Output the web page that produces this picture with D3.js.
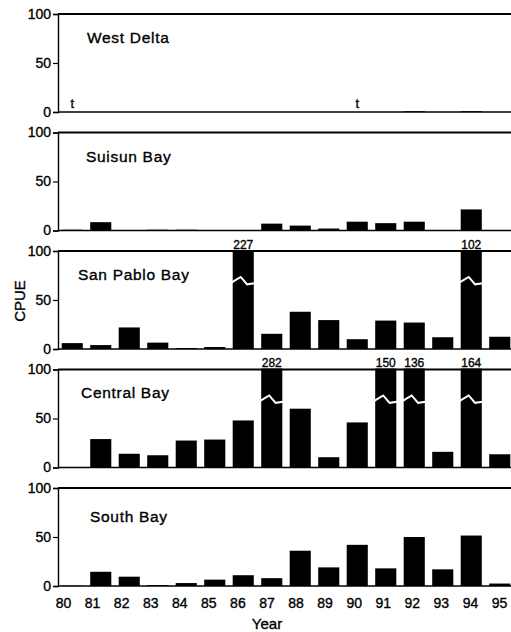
<!DOCTYPE html>
<html>
<head>
<meta charset="utf-8">
<script src="https://cdn.jsdelivr.net/npm/d3@7"></script>
<style>
body { margin: 0; background: #fff; }
text { font-family: Arial, "Liberation Sans", Helvetica, sans-serif; fill: #000; stroke: #000; stroke-width: 0.35px; }
</style>
</head>
<body>
<script>
// years on the x axis
const years = ["80","81","82","83","84","85","86","87","88","89","90","91","92","93","94","95"];
const regions = ["West Delta", "Suisun Bay", "San Pablo Bay", "Central Bay", "South Bay"];

// CPUE per year (values above 100 are drawn as broken bars)
const westDelta   = [0, 0, 0, 0, 0, 0, 0, 0, 0, 0, 0, 0, 0.8, 0, 0.8, 0];
const westDeltaTrace = ["80", "90"];
const suisunBay   = [0.8, 8.5, 0, 0.8, 0.8, 0, 0.5, 7, 5, 2, 9, 7.5, 9, 0, 21.5, 0];
const sanPabloBay = [6, 4, 22, 6.5, 1, 2, 227, 15.5, 38, 29.5, 10, 29, 27, 12, 102, 12.5];
const centralBay  = [0.3, 29, 14, 12.5, 27.5, 28.5, 48, 282, 60, 10.5, 46, 150, 136, 16, 164, 13.5];
const southBay    = [0.3, 14.5, 9.5, 1, 3, 6.5, 11, 8, 36, 19, 42, 18, 50, 17, 51.5, 2.5];
const yTicks = [0, 50, 100];

const series = [westDelta, suisunBay, sanPabloBay, centralBay, southBay];

const width = 511, height = 632;
const panelH = 98, panelStep = 118.5, panelY0 = 14;
const left = 58, right = 514;
// label placement for each panel name
const nameX = [87, 86, 78, 81, 90];
const nameY = [29, 29.5, 29, 28.5, 33.5];

const svg = d3.select("body").append("svg")
    .attr("width", width)
    .attr("height", height);

const x = d3.scaleBand()
    .domain(years)
    .range([left, right])
    .paddingInner(0.26)
    .paddingOuter(0.13);

const xLabel = d3.scalePoint()
    .domain(years)
    .range([63, 499]);

const y = d3.scaleLinear()
    .domain([0, 100])
    .range([panelH, 0]);

const breakLine = d3.line()
    .x(d => d[0])
    .y(d => y(d[1]));

series.forEach((vals, i) => {
    const g = svg.append("g")
        .attr("transform", `translate(0,${panelY0 + i * panelStep})`);

    const data = years.map((yr, j) => ({ year: yr, value: vals[j] }));

    g.selectAll("rect.bar").data(data).enter()
        .append("rect")
        .attr("class", "bar")
        .attr("x", d => x(d.year))
        .attr("y", d => y(Math.min(d.value, 101)))
        .attr("width", x.bandwidth())
        .attr("height", d => y(0) - y(Math.min(d.value, 101)))
        .attr("fill", "#000");

    const broken = data.filter(d => d.value > 100);

    g.selectAll("path.brk").data(broken).enter()
        .append("path")
        .attr("class", "brk")
        .attr("d", d => {
            const x0 = x(d.year), bw = x.bandwidth();
            return breakLine([[x0 - 1, 68], [x0 + bw * 0.38, 73.5], [x0 + bw * 0.68, 66], [x0 + bw + 1, 67]]);
        })
        .attr("fill", "none")
        .attr("stroke", "#fff")
        .attr("stroke-width", 2);

    g.selectAll("text.val").data(broken).enter()
        .append("text")
        .attr("class", "val")
        .attr("x", d => x(d.year) + x.bandwidth() / 2)
        .attr("y", y(100) - 2.5)
        .attr("text-anchor", "middle")
        .attr("font-size", "12px")
        .text(d => d.value);

    // frame lines at 100 and 0
    g.append("line")
        .attr("x1", left).attr("x2", width)
        .attr("y1", y(100)).attr("y2", y(100))
        .attr("stroke", "#000").attr("stroke-width", 1.8);
    g.append("line")
        .attr("x1", left).attr("x2", width)
        .attr("y1", y(0)).attr("y2", y(0))
        .attr("stroke", "#000").attr("stroke-width", 1.5);

    const ax = g.append("g")
        .attr("transform", `translate(${left},0)`)
        .call(d3.axisLeft(y).tickValues(yTicks).tickSize(5).tickPadding(2));
    ax.attr("font-family", null).attr("font-size", "14px");
    ax.select(".domain").attr("stroke-width", 1.4);
    ax.selectAll(".tick line").attr("stroke-width", 1.2);

    g.append("text")
        .attr("x", nameX[i])
        .attr("y", nameY[i])
        .attr("font-size", "15.5px")
        .attr("letter-spacing", "0.7px")
        .text(regions[i]);

    if (i === 0) {
        g.selectAll("text.trace").data(westDeltaTrace).enter()
            .append("text")
            .attr("class", "trace")
            .attr("x", d => x(d) + x.bandwidth() / 2)
            .attr("y", y(0) - 4)
            .attr("text-anchor", "middle")
            .attr("font-size", "13px")
            .text("t");
    }
});

const xAx = svg.append("g")
    .attr("transform", `translate(0,${panelY0 + 4 * panelStep + panelH})`)
    .call(d3.axisBottom(xLabel).tickSize(0).tickPadding(12));
xAx.attr("font-family", null).attr("font-size", "14px");
xAx.select(".domain").remove();

svg.append("text")
    .attr("x", 267)
    .attr("y", 629)
    .attr("text-anchor", "middle")
    .attr("font-size", "15px")
    .text("Year");

svg.append("text")
    .attr("transform", "translate(25,301) rotate(-90)")
    .attr("text-anchor", "middle")
    .attr("font-size", "15px")
    .text("CPUE");
</script>
</body>
</html>
